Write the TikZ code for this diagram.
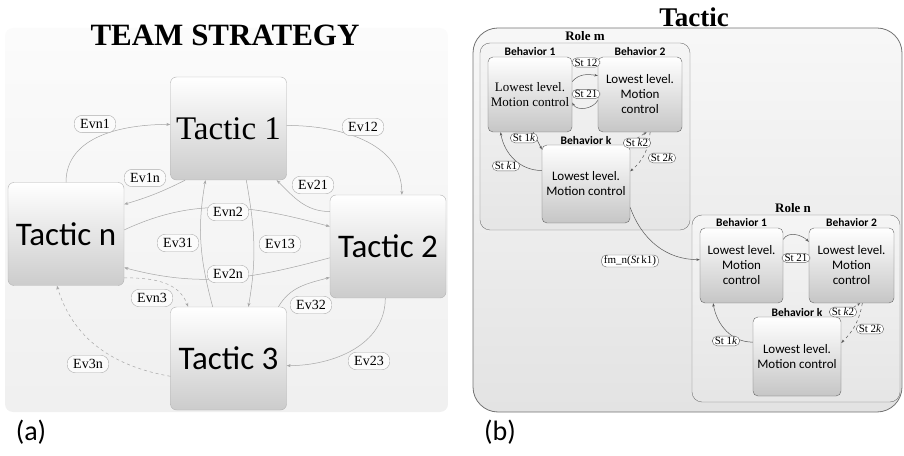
\documentclass[tikz,border=0pt]{standalone}
\usepackage{fontspec}
\setmainfont{Liberation Serif}
\newfontfamily\calib{Carlito}
\usetikzlibrary{arrows.meta}

\tikzset{
  tactic/.style={draw=gray!60, rounded corners=6pt, top color=white, bottom color=gray!40,
    minimum width=116pt, minimum height=103pt, inner sep=0pt},
  evpill/.style={draw=gray!65, fill=gray!3, rounded corners=8pt, inner xsep=6pt, inner ysep=4pt,
    font=\fontsize{14}{14}\selectfont},
  evline/.style={draw=gray!70, line width=0.5pt, -{Stealth[length=4pt,width=3pt]}},
  behbox/.style={draw=black!60, rounded corners=5pt, top color=white, bottom color=gray!45,
    inner sep=0pt, align=center, font=\calib\fontsize{13}{15}\selectfont},
  behlab/.style={font=\calib\bfseries\fontsize{11.5}{11.5}\selectfont, inner sep=1pt},
  stpill/.style={draw=black!60, fill=white, rounded corners=5pt, inner xsep=2.5pt, inner ysep=1pt,
    font=\fontsize{11}{11}\selectfont},
  stline/.style={draw=black!65, line width=0.5pt, -{Stealth[length=3.5pt,width=2.5pt]}},
}

\begin{document}
\begin{tikzpicture}[x=1pt, y=1pt]
  \useasboundingbox (0,0) rectangle (904,455);

  % Team strategy: backdrop and title
  \shade[rounded corners=8pt, top color=gray!3, bottom color=gray!12] (5,427) rectangle (448,43);
  \node[font=\bfseries\fontsize{31}{31}\selectfont] (teamtitle) at (225,420) {TEAM STRATEGY};

  % Tactics
  \node[tactic, font=\fontsize{33}{33}\selectfont]       (t1) at (228.5,326.5) {Tactic 1};
  \node[tactic, font=\calib\fontsize{33}{33}\selectfont] (tn) at (66,221)      {Tactic n};
  \node[tactic, font=\calib\fontsize{33}{33}\selectfont] (t2) at (388,208.5)   {Tactic 2};
  \node[tactic, font=\calib\fontsize{33}{33}\selectfont] (t3) at (228.5,96.5)  {Tactic 3};

  % Events between tactics
  \draw[evline] (tn.90)  to[out=90,in=180]   (t1.176);
  \draw[evline] (t1.3.5) to[out=0,in=90]     (t2.75);
  \draw[evline] (t1.230) to[bend left=5]     (tn.27);
  \draw[evline] (t2.149) to[out=180,in=-45]  (t1.313);
  \draw[evline] (tn.4)   to[out=25,in=165]   (t2.161);
  \draw[evline] (t2.191) to[out=195,in=-15]  (tn.-30);
  \draw[evline] (t3.107) to[out=105,in=-100] (t1.246);
  \draw[evline] (t1.289) to[out=-80,in=80]   (t3.69);
  \draw[evline, dashed] (tn.-37) to[out=0,in=110] (t3.128);
  \draw[evline] (t3.46)  to[out=60,in=195]   (t2.208);
  \draw[evline] (t2.-93) to[out=-90,in=0]    (t3.-7);
  \draw[evline, dashed] (t3.197) to[out=170,in=-73] (tn.260);

  \node[evpill] (evnone)   at (95,331)  {Evn1};
  \node[evpill] (evonetwo) at (363,328) {Ev12};
  \node[evpill] (evonen)   at (145,277) {Ev1n};
  \node[evpill] (evtwoone) at (313,270) {Ev21};
  \node[evpill] (evntwo)   at (228,243) {Evn2};
  \node[evpill] (evthrone) at (178,212) {Ev31};
  \node[evpill] (evonethr) at (280,211) {Ev13};
  \node[evpill] (evtwon)   at (228,181) {Ev2n};
  \node[evpill] (evnthr)   at (152,157) {Evn3};
  \node[evpill] (evthrtwo) at (311,150) {Ev32};
  \node[evpill] (evtwothr) at (369,94)  {Ev23};
  \node[evpill] (evthrn)   at (88,91)   {Ev3n};

  \node[font=\calib\fontsize{28}{28}\selectfont] (capa) at (31,23) {(a)};

  % Tactic panel
  \shade[draw=black!55, line width=0.8pt, rounded corners=25pt, top color=gray!6, bottom color=gray!22]
    (473,427) rectangle (902,43);
  \node[font=\bfseries\fontsize{27}{27}\selectfont] (tactitle) at (694,438) {Tactic};

  % Role m
  \shade[draw=black!55, rounded corners=10pt, top color=gray!8, bottom color=gray!20] (480,412) rectangle (690,225);
  \node[font=\bfseries\fontsize{13}{13}\selectfont] (romlab) at (585,419) {Role m};

  \node[behbox, minimum width=84pt, minimum height=75pt, font=\rmfamily\fontsize{13}{15}\selectfont,
    label={[behlab]above:Behavior 1}] (b1m) at (530,360.5) {Lowest level.\\Motion control};
  \node[behbox, minimum width=84pt, minimum height=75pt,
    label={[behlab]above:Behavior 2}] (b2m) at (640,360.5) {Lowest level.\\Motion\\control};
  \node[behbox, minimum width=88pt, minimum height=78pt,
    label={[behlab, label distance=-1pt]above:Behavior k}] (bkm) at (586,271) {Lowest level.\\Motion control};

  \draw[stline] (b1m.17)  to[out=50,in=170]   (b2m.156);
  \draw[stline] (b2m.188) to[out=-120,in=-60] (b1m.-11);
  \draw[stline] (b1m.-85) -- (bkm.142);
  \draw[stline] (bkm.163) to[out=180,in=-80]  (b1m.232);
  \draw[stline, dashed] (bkm.44)  -- (b2m.-80);
  \draw[stline, dashed] (b2m.-75) to[out=-95,in=40] (bkm.16);

  % Role n
  \shade[draw=black!55, rounded corners=10pt, top color=gray!8, bottom color=gray!20] (692,240) rectangle (900,53);
  \node[font=\bfseries\fontsize{13}{13}\selectfont] (ronlab) at (793,247) {Role n};

  \node[behbox, minimum width=83pt, minimum height=75pt,
    label={[behlab]above:Behavior 1}] (b1n) at (741.5,189.5) {Lowest level.\\Motion\\control};
  \node[behbox, minimum width=85pt, minimum height=75pt,
    label={[behlab]above:Behavior 2}] (b2n) at (851.5,189.5) {Lowest level.\\Motion\\control};
  \node[behbox, minimum width=88pt, minimum height=79pt,
    label={[behlab, label distance=-1pt]above:Behavior k}] (bkn) at (797,98.5) {Lowest level.\\Motion control};

  \draw[stline] (bkm.-28) to[out=-70,in=180] (b1n.172);
  \draw[stline] (b1n.32)  to[out=60,in=135]  (b2n.151);
  \draw[stline, dashed] (bkn.44)  -- (b2n.-77);
  \draw[stline, dashed] (b2n.-74) to[out=-100,in=45] (bkn.17);
  \draw[stline] (bkn.162) to[out=180,in=-80] (b1n.233);

  % State labels
  \node[stpill] (stmot)  at (586,392.5) {St 12};
  \node[stpill] (stmto)  at (586,361)   {St 21};
  \node[stpill] (stmok)  at (524,317)   {St 1\textit{k}};
  \node[stpill] (stmko)  at (506,289)   {St \textit{k}1};
  \node[stpill] (stmkt)  at (637,312)   {St \textit{k}2};
  \node[stpill] (stmtk)  at (662,297)   {St 2\textit{k}};
  \node[stpill] (stfm)   at (630,194)   {fm\_n(\textit{St}\,k1)};
  \node[stpill] (stnto)  at (796,197)   {St 21};
  \node[stpill] (stnkt)  at (843,143)   {St \textit{k}2};
  \node[stpill] (stntk)  at (870,126)   {St 2\textit{k}};
  \node[stpill] (stnok)  at (726,114)   {St 1\textit{k}};

  \node[font=\calib\fontsize{28}{28}\selectfont] (capb) at (500,23) {(b)};
\end{tikzpicture}
\end{document}
